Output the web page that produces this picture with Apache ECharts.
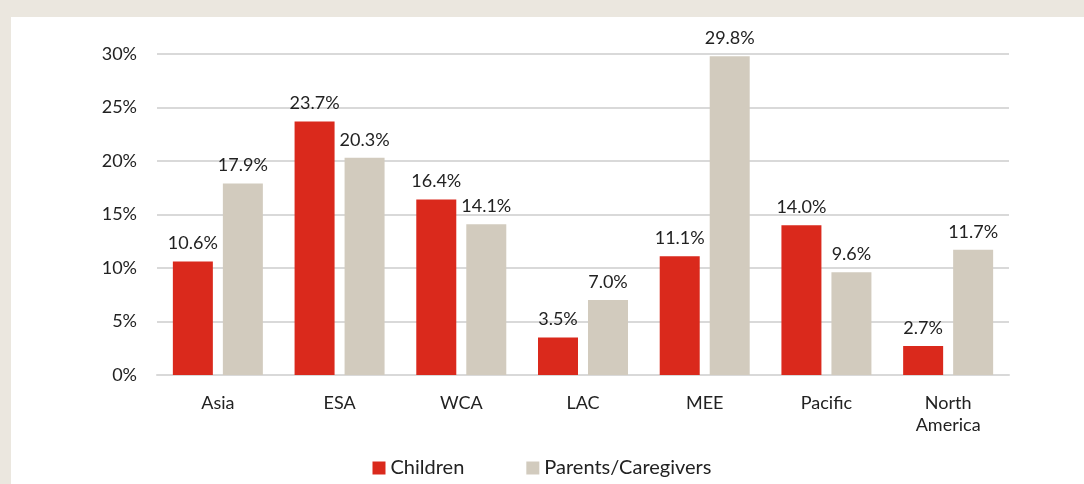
<!DOCTYPE html>
<html>
<head>
<meta charset="utf-8">
<script src="https://cdn.jsdelivr.net/npm/echarts@6/dist/echarts.min.js"></script>
<style>
html,body{margin:0;padding:0;background:#ebe7df;}
#wrap{position:absolute;left:11px;top:17px;right:0;bottom:0;background:#fff;}
#container{position:absolute;left:-11px;top:-17px;width:1084px;height:484px;}
</style>
</head>
<body>
<div id="wrap"><div id="container"></div></div>
<script>
var regions = ['Asia', 'ESA', 'WCA', 'LAC', 'MEE', 'Pacific', 'North\nAmerica'];
var children = [10.6, 23.7, 16.4, 3.5, 11.1, 14.0, 2.7];
var parents = [17.9, 20.3, 14.1, 7.0, 29.8, 9.6, 11.7];
var yTicks = [0, 5, 10, 15, 20, 25, 30];

var font = 'Lato, "Open Sans", sans-serif';
var myChart = echarts.init(document.getElementById('container'));
var option = {
    animation: false,
    textStyle: {fontFamily: font},
    grid: {left: 157, right: 75, top: 54, bottom: 109},
    legend: {
        bottom: 1,
        left: 'center',
        itemWidth: 13,
        itemHeight: 13,
        itemGap: 62,
        icon: 'rect',
        textStyle: {fontSize: 20, color: '#222', fontFamily: font},
        data: ['Children', 'Parents/Caregivers']
    },
    xAxis: {
        type: 'category',
        data: regions,
        axisTick: {show: false},
        axisLine: {lineStyle: {color: '#d9d9d9', width: 2}},
        axisLabel: {fontSize: 18, color: '#222', margin: 17, lineHeight: 22, fontFamily: font}
    },
    yAxis: {
        type: 'value',
        min: yTicks[0],
        max: yTicks[yTicks.length - 1],
        interval: 5,
        axisLine: {show: false},
        axisTick: {show: false},
        splitLine: {lineStyle: {color: '#d9d9d9', width: 2}},
        axisLabel: {fontSize: 18, color: '#222', margin: 20, formatter: '{value}%', fontFamily: font}
    },
    series: [{
        name: 'Children',
        type: 'bar',
        data: children,
        barWidth: 40,
        barGap: '25%',
        itemStyle: {color: '#da291c'},
        label: {show: true, position: 'top', distance: 9, fontSize: 18, color: '#222',
            formatter: function (p) { return p.value.toFixed(1) + '%'; }}
    }, {
        name: 'Parents/Caregivers',
        type: 'bar',
        data: parents,
        barWidth: 40,
        itemStyle: {color: '#d2cbbe'},
        label: {show: true, position: 'top', distance: 9, fontSize: 18, color: '#222',
            formatter: function (p) { return p.value.toFixed(1) + '%'; }}
    }]
};
myChart.setOption(option);
</script>
</body>
</html>
